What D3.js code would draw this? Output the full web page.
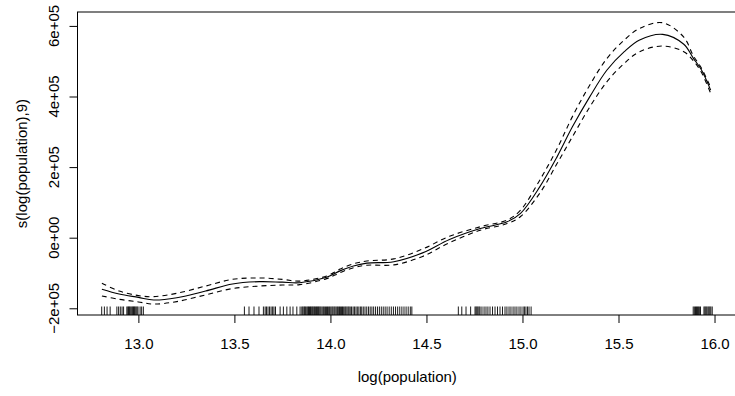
<!DOCTYPE html>
<html>
<head>
<meta charset="utf-8">
<script src="https://cdn.jsdelivr.net/npm/d3@7"></script>
<style>
  body { margin: 0; background: #fff; }
  svg text { font-family: "Liberation Sans", Arial, sans-serif; font-size: 15px; fill: #000; }
</style>
</head>
<body>
<svg id="chart"></svg>
<script>
// smooth term estimate
var logPop = [12.81, 12.9, 13.0, 13.08, 13.2, 13.35, 13.49, 13.63, 13.75, 13.84, 13.98, 14.05, 14.12, 14.19, 14.33,
              14.48, 14.62, 14.78, 14.92, 14.99, 15.09, 15.18, 15.26, 15.35, 15.44, 15.53, 15.61, 15.73, 15.84,
              15.89, 15.93, 15.98];
var fit   = [-146000, -159500, -169000, -176500, -170000, -151000, -131000, -124500, -126000, -127500, -112000,
             -94000, -80000, -72000, -68000, -43000, -5000, 26000, 45000, 69000, 144000, 229000, 314000, 399000,
             475000, 527000, 560000, 576000, 548000, 508000, 477000, 418000];
var upper = [-129000, -151000, -164000, -167000, -157500, -137000, -118000, -114000, -118000, -123000, -108500,
             -89000, -74000, -66000, -60000, -32000, 4000, 31000, 50000, 78000, 163000, 252000, 343000, 432000,
             508000, 560000, 593000, 609000, 568000, 515000, 482000, 426000];
var lower = [-165000, -174500, -182000, -188000, -181000, -162000, -144000, -137000, -134000, -133000, -116000,
             -99000, -85000, -78000, -77000, -53000, -14000, 21000, 40000, 60000, 126000, 210000, 286000, 370000,
             442000, 494000, 527000, 543000, 527000, 501000, 470000, 409000];

// rug of observed log(population)
var rugValues = [12.809, 12.823, 12.837, 12.853, 12.888, 12.897, 12.906, 12.915, 12.923,
  12.940, 12.945, 12.949, 12.953, 12.957, 12.962, 12.967, 12.971, 12.975, 12.979, 12.983, 12.988, 12.993,
  12.998, 13.009, 13.017, 13.026,
  13.552, 13.576, 13.602, 13.628, 13.651, 13.660, 13.667, 13.675, 13.683, 13.691, 13.699, 13.706, 13.714,
  13.738, 13.755, 13.773, 13.790, 13.805, 13.825, 13.842, 13.851, 13.856, 13.862, 13.866, 13.871, 13.877,
  13.882, 13.886, 13.891, 13.896, 13.900, 13.905, 13.909, 13.914, 13.918, 13.923, 13.928, 13.932, 13.937,
  13.941, 13.946, 13.951, 13.957, 13.963, 13.968, 13.974, 13.980, 13.985, 13.991, 13.996, 14.002, 14.008,
  14.013, 14.019, 14.024, 14.030, 14.036, 14.041, 14.047, 14.052, 14.058, 14.063, 14.069, 14.075, 14.080,
  14.086, 14.092, 14.097, 14.103, 14.110, 14.118, 14.125, 14.133, 14.140, 14.148, 14.156, 14.163, 14.171,
  14.180, 14.189, 14.198, 14.207, 14.216, 14.225, 14.235, 14.245, 14.255, 14.265, 14.275, 14.285, 14.295,
  14.306, 14.317, 14.328, 14.339, 14.350, 14.361, 14.372, 14.383, 14.394, 14.405, 14.416, 14.424,
  14.666, 14.684, 14.706, 14.730, 14.753, 14.758, 14.763, 14.768, 14.774, 14.779, 14.789, 14.800, 14.810,
  14.820, 14.831, 14.844, 14.857, 14.870, 14.883, 14.896, 14.909, 14.919, 14.930, 14.940, 14.951, 14.961,
  14.971, 14.982, 14.992, 15.003, 15.010, 15.018, 15.026, 15.034, 15.045,
  15.889, 15.895, 15.901, 15.906, 15.911, 15.916, 15.921, 15.927, 15.945, 15.950, 15.955, 15.960, 15.966,
  15.971, 15.976, 15.981, 15.988];

var xTicks = [13.0, 13.5, 14.0, 14.5, 15.0, 15.5, 16.0];
var yTicks = [-200000, 0, 200000, 400000, 600000];
var yTickLabels = ["\u22122e+05", "0e+00", "2e+05", "4e+05", "6e+05"];

var width = 735, height = 396;
var box = { left: 77.5, right: 737, top: 12, bottom: 315 };

var svg = d3.select("#chart").attr("width", width).attr("height", height);

var x = d3.scaleLinear().domain([12.683, 16.117]).range([box.left, box.right]);
var y = d3.scaleLinear().domain([-219000, 639400]).range([box.bottom, box.top]);

// plot frame
svg.append("rect")
  .attr("x", box.left).attr("y", box.top)
  .attr("width", box.right - box.left).attr("height", box.bottom - box.top)
  .attr("fill", "none").attr("stroke", "#000").attr("stroke-width", 1);

// x axis
var xAxis = svg.append("g")
  .attr("transform", "translate(0," + box.bottom + ")")
  .call(d3.axisBottom(x).tickValues(xTicks).tickFormat(d3.format(".1f")).tickSize(8).tickPadding(15.3));
xAxis.select(".domain").remove();
xAxis.selectAll("line").attr("stroke", "#000");
xAxis.selectAll("text").attr("font-size", null).attr("font-family", null);

// y axis (ticks only, labels rotated by hand)
var yAxis = svg.append("g")
  .attr("transform", "translate(" + box.left + ",0)")
  .call(d3.axisLeft(y).tickValues(yTicks).tickFormat("").tickSize(8));
yAxis.select(".domain").remove();
yAxis.selectAll("line").attr("stroke", "#000");

svg.append("g").selectAll("text")
  .data(yTicks)
  .enter().append("text")
  .attr("transform", function(d) { return "translate(59," + y(d) + ") rotate(-90)"; })
  .attr("text-anchor", "middle")
  .text(function(d, i) { return yTickLabels[i]; });

// axis titles, centred on the plot region
svg.append("text")
  .attr("x", (box.left + box.right) / 2).attr("y", 382)
  .attr("text-anchor", "middle")
  .text("log(population)");

svg.append("text")
  .attr("transform", "translate(27," + (box.top + box.bottom) / 2 + ") rotate(-90)")
  .attr("text-anchor", "middle")
  .text("s(log(population),9)");

// curves
var line = function(vals) {
  return d3.line()
    .x(function(d, i) { return x(logPop[i]); })
    .y(function(d) { return y(d); })
    .curve(d3.curveCatmullRom.alpha(0.5))(vals);
};

svg.append("path").attr("d", line(fit))
  .attr("fill", "none").attr("stroke", "#000").attr("stroke-width", 1.1);

[upper, lower].forEach(function(band) {
  svg.append("path").attr("d", line(band))
    .attr("fill", "none").attr("stroke", "#000").attr("stroke-width", 1.1)
    .attr("stroke-dasharray", "5,4");
});

// rug
svg.append("g").selectAll("line")
  .data(rugValues)
  .enter().append("line")
  .attr("x1", function(d) { return x(d); })
  .attr("x2", function(d) { return x(d); })
  .attr("y1", box.bottom - 8.5)
  .attr("y2", box.bottom)
  .attr("stroke", "#000").attr("stroke-width", 0.9);
</script>
</body>
</html>
